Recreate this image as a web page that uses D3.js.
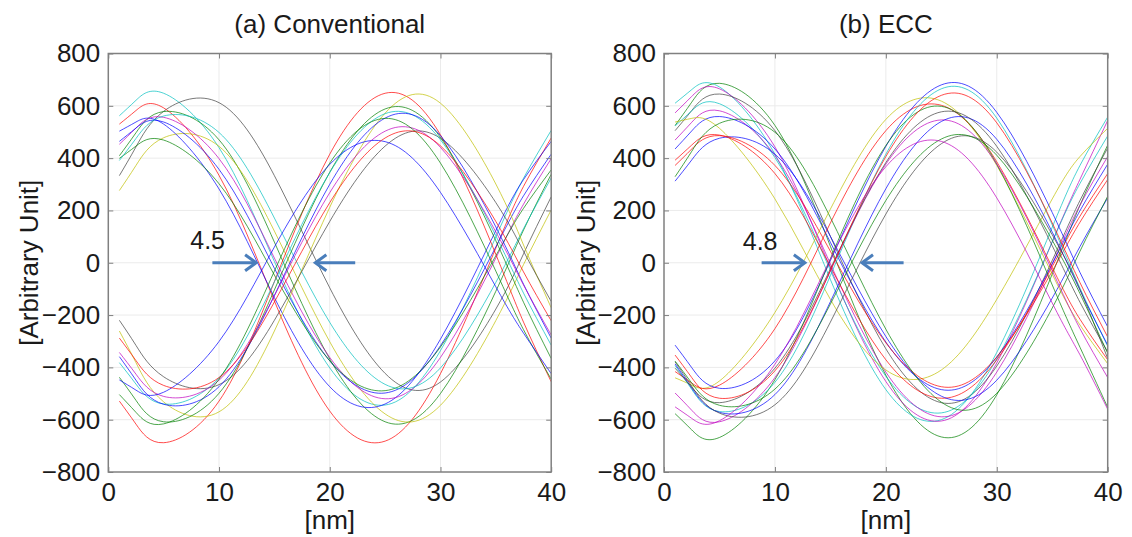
<!DOCTYPE html>
<html>
<head>
<meta charset="utf-8">
<script src="https://d3js.org/d3.v7.min.js"></script>
<style>
body { margin:0; background:#ffffff; }
svg text { font-family: "Liberation Sans", Arial, sans-serif; fill:#1a1a1a; }
</style>
</head>
<body>
<svg id="chart"></svg>
<script>
// sample positions along x [nm]
var nm = [1, 2.5, 5, 10, 15, 20, 25, 30, 35, 37.5, 40];
var xTicks = [0, 10, 20, 30, 40];
var yTicks = [-800, -600, -400, -200, 0, 200, 400, 600, 800];

// (a) Conventional - curves that start high and fall
var convFalling = [
    [562, 621, 648, 440, 5, -402, -544, -336, 99, 323, 506],
    [333, 443, 579, 612, 333, -96, -423, -456, -177, 34, 252],
    [530, 582, 592, 334, -146, -567, -682, -424, 56, 292, 477],
    [409, 497, 578, 470, 79, -368, -608, -500, -109, 125, 338],
    [276, 372, 478, 445, 121, -302, -578, -545, -221, -7, 202],
    [503, 538, 530, 282, -133, -474, -540, -292, 123, 318, 464],
    [453, 515, 556, 398, 18, -362, -520, -362, 18, 224, 398],
    [464, 515, 538, 357, -21, -375, -498, -317, 61, 256, 415],
    [399, 446, 469, 302, -47, -375, -489, -322, 27, 208, 355],
    [391, 475, 561, 498, 171, -228, -465, -402, -75, 130, 324]
];
var convFallingColors = ["c", "k", "r", "g", "y", "b", "m", "b", "g", "c"];

// (a) Conventional - curves that start low and rise
var convRising = [
    [-529, -617, -688, -529, -72, 415, 648, 489, 32, -227, -455],
    [-261, -382, -532, -570, -261, 212, 572, 610, 301, 68, -172],
    [-220, -316, -436, -466, -220, 158, 446, 476, 230, 44, -148],
    [-438, -526, -608, -499, -104, 346, 588, 479, 84, -151, -366],
    [-382, -464, -540, -440, -73, 345, 570, 470, 103, -116, -315],
    [-359, -449, -541, -474, -125, 300, 553, 486, 137, -82, -288],
    [-343, -426, -511, -449, -126, 268, 503, 441, 118, -85, -276],
    [-504, -572, -616, -445, -32, 381, 552, 381, -32, -256, -445],
    [-448, -487, -495, -301, 60, 376, 463, 269, -92, -269, -424],
    [-288, -374, -469, -439, -150, 230, 477, 447, 158, -35, -222]
];
var convRisingColors = ["r", "y", "k", "g", "c", "b", "m", "g", "b", "r"];

// (b) ECC - falling
var eccFalling = [
    [525, 614, 686, 525, 63, -430, -666, -505, -43, 220, 450],
    [610, 662, 672, 415, -64, -485, -600, -343, 136, 372, 557],
    [573, 636, 665, 443, -20, -454, -605, -383, 80, 319, 544],
    [505, 582, 645, 505, 101, -329, -535, -395, 9, 238, 439],
    [523, 581, 608, 402, -29, -434, -574, -368, 80, 303, 485],
    [469, 537, 581, 410, -4, -418, -589, -418, -4, 220, 406],
    [435, 504, 559, 435, 78, -303, -485, -361, -4, 199, 377],
    [538, 552, 514, 244, -140, -410, -410, -140, 244, 406, 514],
    [392, 450, 488, 341, -15, -371, -518, -371, -15, 178, 341],
    [312, 393, 476, 415, 101, -282, -510, -449, -135, 62, 248],
    [372, 435, 486, 372, 44, -306, -474, -360, -32, 155, 318],
    [329, 426, 533, 499, 173, -254, -533, -499, -173, 44, 254]
];
var eccFallingColors = ["g", "c", "m", "k", "c", "m", "b", "y", "r", "b", "r", "g"];

// (b) ECC - rising
var eccRising = [
    [-440, -468, -452, -190, 205, 548, 618, 372, -44, -238, -386],
    [-416, -460, -468, -252, 152, 505, 602, 386, -18, -216, -371],
    [-315, -401, -480, -375, 8, 445, 680, 575, 192, -37, -245],
    [-577, -639, -668, -447, 15, 448, 598, 377, -85, -323, -553],
    [-393, -484, -569, -457, -49, 415, 665, 553, 145, -97, -319],
    [-498, -564, -608, -439, -31, 377, 546, 377, -31, -252, -439],
    [-387, -479, -572, -504, -149, 283, 540, 472, 117, -105, -315],
    [-403, -476, -535, -403, -23, 383, 577, 445, 65, -151, -341],
    [-353, -439, -518, -413, -30, 406, 640, 535, 152, -76, -284],
    [-379, -472, -575, -543, -227, 186, 455, 423, 107, -102, -366],
    [-376, -460, -545, -483, -158, 238, 473, 411, 86, -118, -346],
    [-551, -595, -604, -388, 14, 367, 464, 248, -154, -352, -560]
];
var eccRisingColors = ["y", "r", "b", "g", "c", "m", "b", "k", "r", "k", "g", "m"];

// annotation: arrows [tail, tip] at y = 0, and the spread label
var convArrows = [[9.4, 13.35], [22.3, 18.7]];
var eccArrows = [[8.8, 12.7], [21.6, 17.85]];
var convSpread = ["4.5", 7.4, 51];
var eccSpread = ["4.8", 7.1, 48];

var matlabColors = {
    b: "#0000ff", g: "#008000", r: "#ff0000", c: "#00bfbf",
    m: "#bf00bf", y: "#bfbf00", k: "#404040"
};

var drawLines = function(target, series, colors, xScale, yScale)
{
    var line = d3.line()
        .x(function(d, i) { return xScale(nm[i]); })
        .y(function(d) { return yScale(d); })
        .curve(d3.curveNatural);

    target.append("g")
        .selectAll("path")
        .data(series)
        .enter()
        .append("path")
        .attr("fill", "none")
        .attr("d", line)
        .attr("stroke", function(d, i) { return matlabColors[colors[i]]; })
        .attr("stroke-width", 1)
        .attr("stroke-opacity", 0.7);
}

var drawGrid = function(target, box, xScale, yScale)
{
    var grid = target.append("g");
    grid.selectAll(".gx")
        .data(xTicks.slice(1, -1))
        .enter()
        .append("line")
        .attr("x1", function(d) { return xScale(d); })
        .attr("x2", function(d) { return xScale(d); })
        .attr("y1", box.top)
        .attr("y2", box.bottom)
        .attr("stroke", "#ebebeb");
    grid.selectAll(".gy")
        .data(yTicks.slice(1, -1))
        .enter()
        .append("line")
        .attr("y1", function(d) { return yScale(d); })
        .attr("y2", function(d) { return yScale(d); })
        .attr("x1", box.left)
        .attr("x2", box.right)
        .attr("stroke", "#ebebeb");
}

var drawAxes = function(target, box, xScale, yScale)
{
    var bottom = target.append("g")
        .attr("transform", "translate(0," + box.bottom + ")")
        .call(d3.axisBottom(xScale).tickValues(xTicks).tickSizeInner(-5).tickSizeOuter(0).tickPadding(11));
    var left = target.append("g")
        .attr("transform", "translate(" + box.left + ",0)")
        .call(d3.axisLeft(yScale).tickValues(yTicks).tickSizeInner(-5).tickSizeOuter(0).tickPadding(8));
    var top = target.append("g")
        .attr("transform", "translate(0," + box.top + ")")
        .call(d3.axisTop(xScale).tickValues(xTicks).tickSizeInner(-5).tickSizeOuter(0).tickFormat(""));
    var right = target.append("g")
        .attr("transform", "translate(" + box.right + ",0)")
        .call(d3.axisRight(yScale).tickValues(yTicks).tickSizeInner(-5).tickSizeOuter(0).tickFormat(""));

    [bottom, left, top, right].forEach(function(ax)
    {
        ax.select(".domain").remove();
        ax.selectAll(".tick line").attr("stroke", "#808080");
        ax.attr("font-size", 26).attr("font-family", null);
        ax.selectAll("text").attr("fill", "#1a1a1a");
    });

    target.append("rect")
        .attr("x", box.left)
        .attr("y", box.top)
        .attr("width", box.right - box.left)
        .attr("height", box.bottom - box.top)
        .attr("fill", "none")
        .attr("stroke", "#808080")
        .attr("stroke-width", 1.5);
}

var drawArrows = function(target, arrows, spread, xScale, yScale)
{
    var y0 = yScale(0);
    arrows.forEach(function(a)
    {
        var tail = xScale(a[0]);
        var tip = xScale(a[1]);
        var dir = tip > tail ? 1 : -1;
        target.append("path")
            .attr("d", "M" + tail + "," + y0 + "L" + (tip - dir * 1.5) + "," + y0)
            .attr("stroke", "#4a7ebb")
            .attr("stroke-width", 3)
            .attr("fill", "none");
        target.append("path")
            .attr("d", "M" + (tip - dir * 11) + "," + (y0 - 8) + "L" + tip + "," + y0 + "L" + (tip - dir * 11) + "," + (y0 + 8))
            .attr("stroke", "#4a7ebb")
            .attr("stroke-width", 3)
            .attr("fill", "none");
    });

    target.append("text")
        .text(spread[0])
        .attr("x", xScale(spread[1]))
        .attr("y", yScale(spread[2]))
        .attr("font-family", "Lato, 'Open Sans', sans-serif")
        .attr("font-size", 25)
        .attr("fill", "#222");
}

var drawLabels = function(target, box, title, yLabelX)
{
    var cx = (box.left + box.right) / 2;
    target.append("text")
        .text(title)
        .attr("text-anchor", "middle")
        .attr("x", cx)
        .attr("y", 33)
        .attr("font-size", 26);

    target.append("text")
        .text("[nm]")
        .attr("text-anchor", "middle")
        .attr("x", cx)
        .attr("y", 529)
        .attr("font-size", 26);

    target.append("text")
        .text("[Arbitrary Unit]")
        .attr("text-anchor", "middle")
        .attr("transform", "translate(" + yLabelX + "," + ((box.top + box.bottom) / 2) + ") rotate(-90)")
        .attr("font-size", 26);
}

var drawPanel = function(svg, box, title, yLabelX, falling, fallingColors, rising, risingColors, arrows, spread)
{
    var xScale = d3.scaleLinear()
        .domain([0, 40])
        .range([box.left, box.right]);
    var yScale = d3.scaleLinear()
        .domain([-800, 800])
        .range([box.bottom, box.top]);

    var target = svg.append("g");
    drawGrid(target, box, xScale, yScale);
    drawLines(target, falling, fallingColors, xScale, yScale);
    drawLines(target, rising, risingColors, xScale, yScale);
    drawAxes(target, box, xScale, yScale);
    drawArrows(target, arrows, spread, xScale, yScale);
    drawLabels(target, box, title, yLabelX);
}

var initGraph = function()
{
    var screen = {width: 1132, height: 537};
    var svg = d3.select("#chart")
        .attr("width", screen.width)
        .attr("height", screen.height);

    var boxA = {left: 108.3, right: 551.2, top: 53.5, bottom: 472};
    var boxB = {left: 664, right: 1107.7, top: 53.5, bottom: 472};

    drawPanel(svg, boxA, "(a) Conventional", 38, convFalling, convFallingColors,
              convRising, convRisingColors, convArrows, convSpread);
    drawPanel(svg, boxB, "(b) ECC", 595, eccFalling, eccFallingColors,
              eccRising, eccRisingColors, eccArrows, eccSpread);
}

initGraph();
</script>
</body>
</html>
